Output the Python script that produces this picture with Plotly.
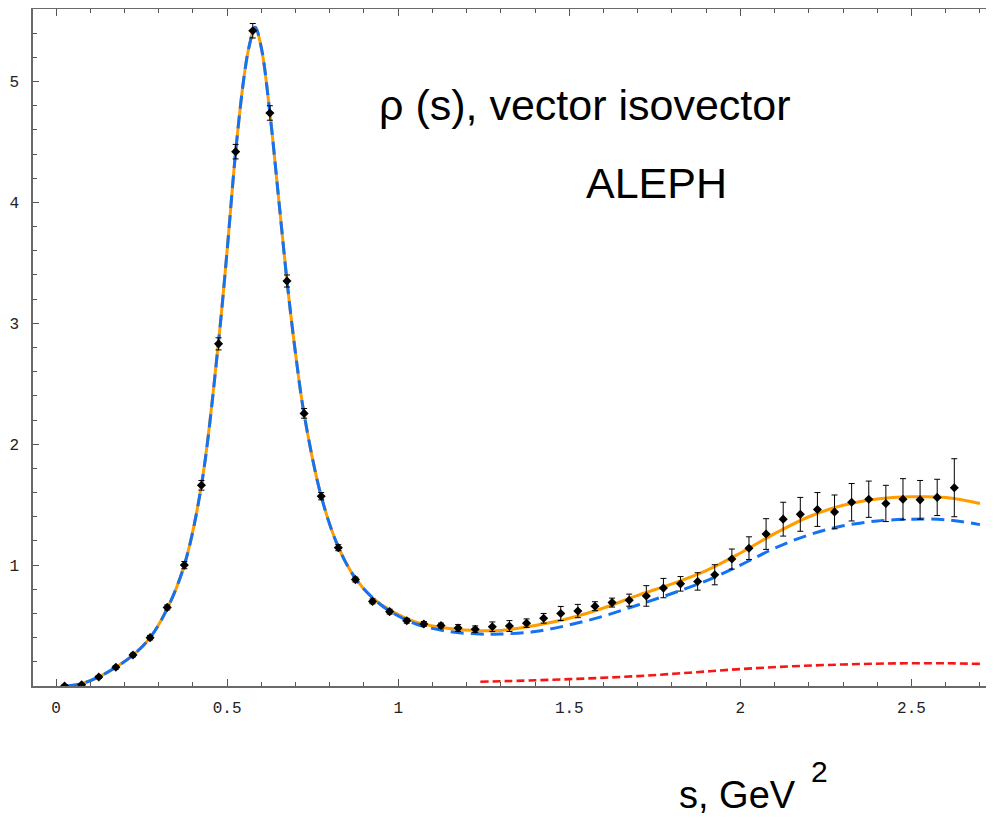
import plotly.graph_objects as go

# ---- data points (ALEPH) ----
s_data = [0.025, 0.075, 0.125, 0.175, 0.225, 0.275, 0.325, 0.375, 0.425, 0.475,
          0.525, 0.575, 0.625, 0.675, 0.725, 0.775, 0.825, 0.875, 0.925, 0.975,
          1.025, 1.075, 1.125, 1.175, 1.225, 1.275, 1.325, 1.375, 1.425, 1.475,
          1.525, 1.575, 1.625, 1.675, 1.725, 1.775, 1.825, 1.875, 1.925, 1.975,
          2.025, 2.075, 2.125, 2.175, 2.225, 2.275, 2.325, 2.375, 2.425, 2.475,
          2.525, 2.575, 2.625]
rho_data = [0.0, 0.01, 0.075, 0.155, 0.256, 0.40, 0.65, 1.0, 1.66, 2.83,
            4.42, 5.42, 4.74, 3.35, 2.255, 1.57, 1.144, 0.88, 0.70, 0.615,
            0.54, 0.513, 0.50, 0.48, 0.47, 0.49, 0.496, 0.52, 0.56, 0.60,
            0.62, 0.66, 0.69, 0.71, 0.745, 0.81, 0.845, 0.865, 0.92, 1.05,
            1.14, 1.257, 1.38, 1.42, 1.46, 1.44, 1.52, 1.545, 1.51, 1.545,
            1.54, 1.56, 1.64]
rho_err = [0.01, 0.01, 0.012, 0.015, 0.015, 0.018, 0.02, 0.03, 0.04, 0.05,
           0.06, 0.06, 0.06, 0.05, 0.04, 0.03, 0.025, 0.02, 0.02, 0.02,
           0.02, 0.02, 0.02, 0.028, 0.027, 0.04, 0.045, 0.035, 0.04, 0.058,
           0.055, 0.037, 0.037, 0.05, 0.085, 0.08, 0.06, 0.072, 0.083, 0.083,
           0.094, 0.127, 0.14, 0.14, 0.14, 0.14, 0.155, 0.15, 0.15, 0.17,
           0.16, 0.15, 0.24]

# ---- total fit (orange, solid) ----
s_fit = [0.03, 0.075, 0.125, 0.175, 0.225, 0.275, 0.325, 0.375, 0.425, 0.475,
         0.5, 0.525, 0.55, 0.565, 0.582, 0.6, 0.625, 0.65, 0.675, 0.7,
         0.725, 0.775, 0.825, 0.875, 0.925, 0.975, 1.05, 1.15, 1.24, 1.3,
         1.4, 1.5, 1.6, 1.7, 1.8, 1.9, 2.0, 2.1, 2.2, 2.3,
         2.4, 2.5, 2.6, 2.7]
rho_total = [0.0, 0.02, 0.075, 0.155, 0.255, 0.40, 0.64, 1.0, 1.66, 2.85,
             3.6, 4.42, 5.05, 5.3, 5.45, 5.28, 4.74, 4.05, 3.35, 2.75,
             2.25, 1.57, 1.15, 0.89, 0.73, 0.63, 0.53, 0.475, 0.457, 0.46,
             0.50, 0.56, 0.645, 0.75, 0.845, 0.955, 1.10, 1.26, 1.40, 1.495,
             1.547, 1.565, 1.56, 1.51]
# ---- resonance part (blue, dashed) ----
rho_res = [0.0, 0.02, 0.075, 0.155, 0.255, 0.40, 0.64, 1.0, 1.66, 2.85,
           3.6, 4.42, 5.05, 5.3, 5.45, 5.28, 4.74, 4.05, 3.35, 2.75,
           2.25, 1.57, 1.15, 0.89, 0.73, 0.62, 0.515, 0.45, 0.43, 0.43,
           0.45, 0.505, 0.578, 0.67, 0.765, 0.87, 1.0, 1.14, 1.25, 1.325,
           1.365, 1.38, 1.375, 1.335]
# ---- continuum part (red, dashed) ----
s_cont = [1.24, 1.4, 1.55, 1.7, 1.85, 2.0, 2.15, 2.3, 2.45, 2.6, 2.7]
rho_cont = [0.035, 0.047, 0.062, 0.082, 0.11, 0.14, 0.163, 0.178, 0.187, 0.188, 0.183]

x_ticks = [0, 0.5, 1, 1.5, 2, 2.5]
x_ticktext = ["0", "0.5", "1", "1.5", "2", "2.5"]
y_ticks = [1, 2, 3, 4, 5]
y_ticktext = ["1", "2", "3", "4", "5"]

fig = go.Figure()
fig.add_trace(go.Scatter(x=s_fit, y=rho_total, mode="lines", line_shape="spline",
                         line=dict(color="#FF9C00", width=3)))
fig.add_trace(go.Scatter(x=s_fit, y=rho_res, mode="lines", line_shape="spline",
                         line=dict(color="#1572F2", width=3, dash="13px,7px")))
fig.add_trace(go.Scatter(x=s_cont, y=rho_cont, mode="lines", line_shape="spline",
                         line=dict(color="#F51616", width=2.6, dash="8px,4px")))
fig.add_trace(go.Scatter(x=s_data, y=rho_data, mode="markers",
                         marker=dict(symbol="diamond", size=7, color="black"),
                         error_y=dict(type="data", array=rho_err, visible=True,
                                      color="black", thickness=1, width=3)))

tickfont = dict(family="Liberation Mono, DejaVu Sans Mono, monospace", size=16, color="#222")
fig.update_xaxes(range=[-0.0672, 2.741], showgrid=False, zeroline=False,
                 showline=True, linecolor="#6a6a6a", linewidth=1.5, mirror="ticks",
                 ticks="inside", ticklen=7, tickwidth=1, tickcolor="#555",
                 tickvals=x_ticks, ticktext=x_ticktext,
                 minor=dict(dtick=0.1, tick0=0, ticks="inside", ticklen=4, tickcolor="#555"),
                 tickfont=tickfont, ticklabelstandoff=6)
fig.update_yaxes(range=[0, 5.6], showgrid=False, zeroline=False,
                 showline=True, linecolor="#6a6a6a", linewidth=1.5,
                 ticks="inside", ticklen=6, tickwidth=1, tickcolor="#555",
                 tickvals=y_ticks, ticktext=y_ticktext,
                 minor=dict(dtick=0.2, tick0=0, ticks="inside", ticklen=4, tickcolor="#555"),
                 tickfont=tickfont, ticklabelstandoff=9)

fam = "Liberation Sans Narrow, Arial Narrow, Liberation Sans, Arial, sans-serif"
fig.add_annotation(text="ρ (s), vector isovector", xref="paper", yref="paper",
                   x=0.574, y=0.858, xanchor="center", yanchor="middle", showarrow=False,
                   font=dict(family=fam, size=43, color="black"))
fig.add_annotation(text="ALEPH", xref="paper", yref="paper",
                   x=0.649, y=0.743, xanchor="center", yanchor="middle", showarrow=False,
                   font=dict(family=fam, size=43, color="black"))
fig.add_annotation(text="s, GeV", xref="paper", yref="paper",
                   x=0.7326, y=-0.161, xanchor="center", yanchor="middle", showarrow=False,
                   font=dict(family=fam, size=38, color="black"))
fig.add_annotation(text="2", xref="paper", yref="paper",
                   x=(819 - 33) / 961, y=-0.1256, xanchor="center", yanchor="middle", showarrow=False,
                   font=dict(family=fam, size=30, color="black"))

# page body adds an 8px offset; size the figure so the plot area lands where the reference has it
fig.update_layout(width=986, height=811, margin=dict(l=25, r=0, t=1, b=133),
                  paper_bgcolor="white", plot_bgcolor="white", showlegend=False)
fig.write_html("out.html")
